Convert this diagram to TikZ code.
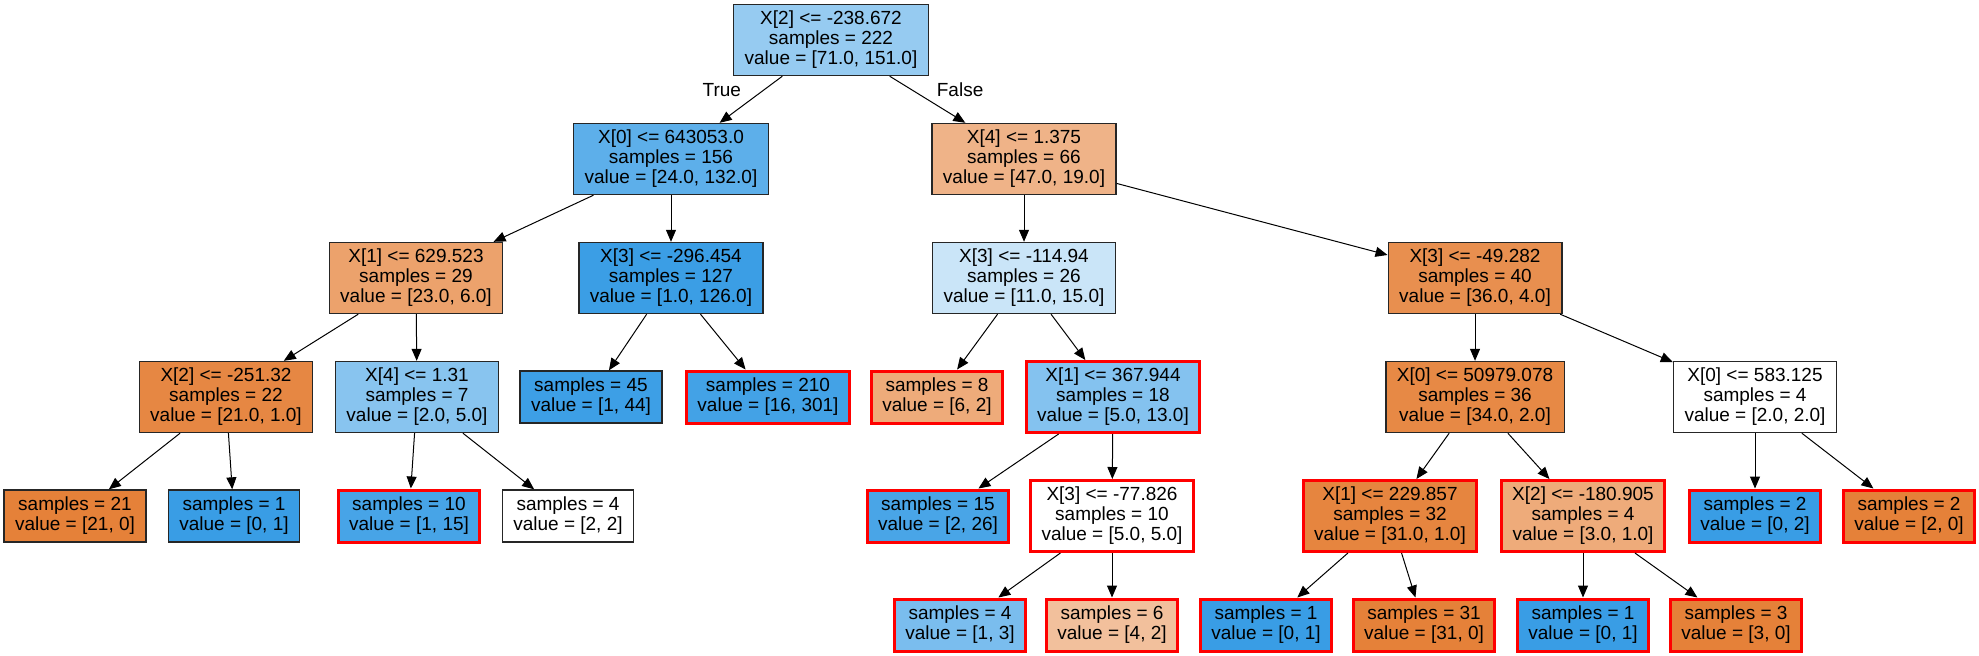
\documentclass[tikz,border=0pt]{standalone}
\usepackage{fontspec}
\setmainfont{Liberation Sans}
\usetikzlibrary{arrows.meta}
\definecolor{orng}{HTML}{E58139}
\definecolor{blu}{HTML}{399DE5}
\begin{document}
\begin{tikzpicture}[x=0.5pt,y=-0.5pt,
        box/.style={rectangle,draw=black!85,line width=0.7pt,align=center,inner xsep=5.5pt,inner ysep=0pt,font=\fontsize{9.5}{10}\selectfont},
        split/.style={box,minimum height=35.5pt},
        leaf/.style={box,minimum height=26pt},
        hl/.style={draw=red,line width=1.5pt},
        >={Triangle[length=6pt,width=5pt]}]
        \fill[white] (0,0) rectangle (1979,655);
        % depth 0 and 1
        \node[split,fill=blu!53] (n0) at (831,40) {X[2] <= -238.672\\samples = 222\\value = [71.0, 151.0]};
        \node[split,fill=blu!82] (n1) at (671,159) {X[0] <= 643053.0\\samples = 156\\value = [24.0, 132.0]};
        \node[split,fill=orng!60] (n2) at (1024,159) {X[4] <= 1.375\\samples = 66\\value = [47.0, 19.0]};
        % depth 2
        \node[split,fill=orng!74] (n3) at (416,278) {X[1] <= 629.523\\samples = 29\\value = [23.0, 6.0]};
        \node[split,fill=blu!99] (n4) at (671,278) {X[3] <= -296.454\\samples = 127\\value = [1.0, 126.0]};
        \node[split,fill=blu!27] (n5) at (1024,278) {X[3] <= -114.94\\samples = 26\\value = [11.0, 15.0]};
        \node[split,fill=orng!89] (n6) at (1475,278) {X[3] <= -49.282\\samples = 40\\value = [36.0, 4.0]};
        % depth 3
        \node[split,fill=orng!95] (n7) at (226,397) {X[2] <= -251.32\\samples = 22\\value = [21.0, 1.0]};
        \node[split,fill=blu!60] (n8) at (417,397) {X[4] <= 1.31\\samples = 7\\value = [2.0, 5.0]};
        \node[leaf,fill=blu!98] (n9) at (591,397) {samples = 45\\value = [1, 44]};
        \node[leaf,hl,fill=blu!95] (n10) at (768,397) {samples = 210\\value = [16, 301]};
        \node[leaf,hl,fill=orng!67] (n11) at (937,397) {samples = 8\\value = [6, 2]};
        \node[split,hl,fill=blu!62] (n12) at (1113,397) {X[1] <= 367.944\\samples = 18\\value = [5.0, 13.0]};
        \node[split,fill=orng!94] (n13) at (1475,397) {X[0] <= 50979.078\\samples = 36\\value = [34.0, 2.0]};
        \node[split,fill=white] (n14) at (1755,397) {X[0] <= 583.125\\samples = 4\\value = [2.0, 2.0]};
        % depth 4
        \node[leaf,fill=orng] (n15) at (75,516) {samples = 21\\value = [21, 0]};
        \node[leaf,fill=blu] (n16) at (234,516) {samples = 1\\value = [0, 1]};
        \node[leaf,hl,fill=blu!93] (n17) at (409,516) {samples = 10\\value = [1, 15]};
        \node[leaf,fill=white] (n18) at (568,516) {samples = 4\\value = [2, 2]};
        \node[leaf,hl,fill=blu!92] (n19) at (938,516) {samples = 15\\value = [2, 26]};
        \node[split,hl,fill=white] (n20) at (1112,516) {X[3] <= -77.826\\samples = 10\\value = [5.0, 5.0]};
        \node[split,hl,fill=orng!97] (n21) at (1390,516) {X[1] <= 229.857\\samples = 32\\value = [31.0, 1.0]};
        \node[split,hl,fill=orng!67] (n22) at (1583,516) {X[2] <= -180.905\\samples = 4\\value = [3.0, 1.0]};
        \node[leaf,hl,fill=blu] (n23) at (1755,516) {samples = 2\\value = [0, 2]};
        \node[leaf,hl,fill=orng] (n24) at (1909,516) {samples = 2\\value = [2, 0]};
        % depth 5
        \node[leaf,hl,fill=blu!67] (n25) at (960,625) {samples = 4\\value = [1, 3]};
        \node[leaf,hl,fill=orng!50] (n26) at (1112,625) {samples = 6\\value = [4, 2]};
        \node[leaf,hl,fill=blu] (n27) at (1266,625) {samples = 1\\value = [0, 1]};
        \node[leaf,hl,fill=orng] (n28) at (1424,625) {samples = 31\\value = [31, 0]};
        \node[leaf,hl,fill=blu] (n29) at (1583,625) {samples = 1\\value = [0, 1]};
        \node[leaf,hl,fill=orng] (n30) at (1736,625) {samples = 3\\value = [3, 0]};
        % edges
        \draw[->,line width=0.5pt] (n0) -- (n1) node[pos=0.3,left=11pt,inner sep=0pt,font=\fontsize{9.5}{10}\selectfont] {True};
        \draw[->,line width=0.5pt] (n0) -- (n2) node[pos=0.3,right=12pt,inner sep=0pt,font=\fontsize{9.5}{10}\selectfont] {False};
        \foreach \a/\b in {n1/n3,n1/n4,n2/n5,n2/n6,n3/n7,n3/n8,n4/n9,n4/n10,n5/n11,n5/n12,n6/n13,n6/n14,n7/n15,n7/n16,n8/n17,n8/n18,n12/n19,n12/n20,n13/n21,n13/n22,n14/n23,n14/n24,n20/n25,n20/n26,n21/n27,n21/n28,n22/n29,n22/n30}
            \draw[->,line width=0.5pt] (\a) -- (\b);
\end{tikzpicture}
\end{document}
